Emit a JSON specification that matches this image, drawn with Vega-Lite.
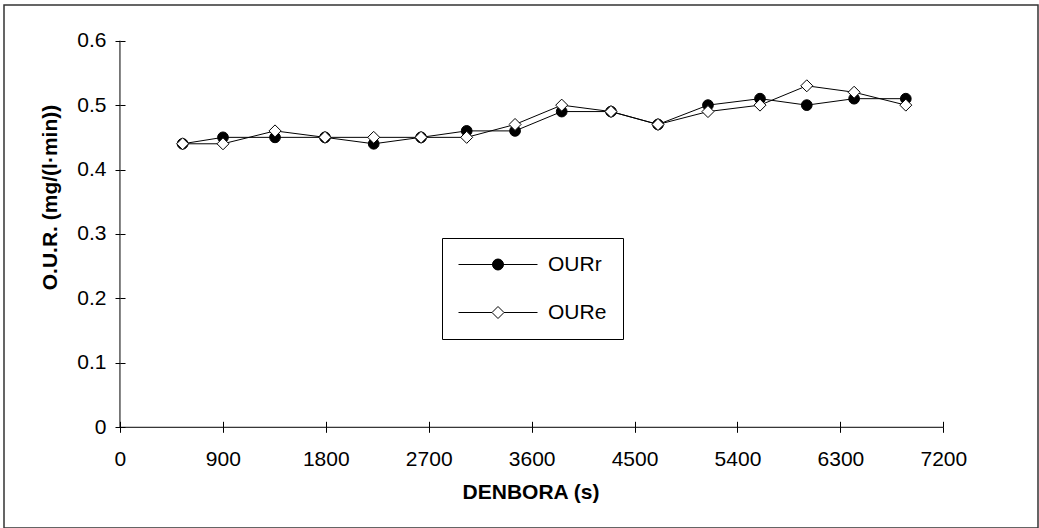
{
  "$schema": "https://vega.github.io/schema/vega-lite/v6.json",
  "width": 1034,
  "height": 523,
  "autosize": {"type": "none"},
  "padding": {"left": 4, "top": 5, "right": 1, "bottom": 0},
  "background": "white",
  "config": {
    "view": {"stroke": "#333333", "strokeWidth": 1.5},
    "font": "Liberation Sans",
    "axis": {"labelFont": "Liberation Sans", "titleFont": "Liberation Sans", "labelColor": "black", "titleColor": "black", "tickColor": "black", "grid": false, "domain": false}
  },
  "data": {
    "values": [
      {"t": 548, "series": "OURr", "our": 0.44},
      {"t": 901, "series": "OURr", "our": 0.45},
      {"t": 1356, "series": "OURr", "our": 0.45},
      {"t": 1793, "series": "OURr", "our": 0.45},
      {"t": 2219, "series": "OURr", "our": 0.44},
      {"t": 2633, "series": "OURr", "our": 0.45},
      {"t": 3032, "series": "OURr", "our": 0.46},
      {"t": 3455, "series": "OURr", "our": 0.46},
      {"t": 3863, "series": "OURr", "our": 0.49},
      {"t": 4294, "series": "OURr", "our": 0.49},
      {"t": 4705, "series": "OURr", "our": 0.47},
      {"t": 5142, "series": "OURr", "our": 0.50},
      {"t": 5597, "series": "OURr", "our": 0.51},
      {"t": 6006, "series": "OURr", "our": 0.50},
      {"t": 6420, "series": "OURr", "our": 0.51},
      {"t": 6872, "series": "OURr", "our": 0.51},
      {"t": 548, "series": "OURe", "our": 0.44},
      {"t": 901, "series": "OURe", "our": 0.44},
      {"t": 1356, "series": "OURe", "our": 0.46},
      {"t": 1793, "series": "OURe", "our": 0.45},
      {"t": 2219, "series": "OURe", "our": 0.45},
      {"t": 2633, "series": "OURe", "our": 0.45},
      {"t": 3032, "series": "OURe", "our": 0.45},
      {"t": 3455, "series": "OURe", "our": 0.47},
      {"t": 3863, "series": "OURe", "our": 0.50},
      {"t": 4294, "series": "OURe", "our": 0.49},
      {"t": 4705, "series": "OURe", "our": 0.47},
      {"t": 5142, "series": "OURe", "our": 0.49},
      {"t": 5597, "series": "OURe", "our": 0.50},
      {"t": 6006, "series": "OURe", "our": 0.53},
      {"t": 6420, "series": "OURe", "our": 0.52},
      {"t": 6872, "series": "OURe", "our": 0.50}
    ]
  },
  "layer": [
    {
      "mark": {"type": "line", "color": "black", "strokeWidth": 1},
      "encoding": {
        "x": {
          "field": "t", "type": "quantitative",
          "scale": {"domain": [-1014, 8028], "nice": false, "zero": false},
          "axis": {
            "orient": "bottom", "offset": -100.7,
            "values": [0, 900, 1800, 2700, 3600, 4500, 5400, 6300, 7200],
            "format": "d", "tickSize": 5, "tickWidth": 1,
            "labelFontSize": 21, "labelPadding": 16, "labelFlush": false, "labelOverlap": false,
            "title": "DENBORA (s)", "titleFontSize": 21, "titleFontWeight": "bold",
            "titleX": 526.5, "titleY": 54, "titleBaseline": "top", "titleAlign": "center"
          }
        },
        "y": {
          "field": "our", "type": "quantitative",
          "scale": {"domain": [-0.1563, 0.6554], "nice": false, "zero": false},
          "axis": {
            "orient": "left", "offset": -116,
            "values": [0, 0.1, 0.2, 0.3, 0.4, 0.5, 0.6],
            "format": ".1~f", "tickSize": 5, "tickWidth": 1,
            "labelFontSize": 21, "labelPadding": 9, "labelFlush": false, "labelOverlap": false,
            "title": "O.U.R. (mg/(l·min))", "titleFontSize": 21, "titleFontWeight": "bold",
            "titleAngle": -90, "titleX": -70, "titleY": 192, "titleBaseline": "middle", "titleAlign": "center"
          }
        },
        "detail": {"field": "series", "type": "nominal"}
      }
    },
    {
      "transform": [{"filter": "datum.series === 'OURr'"}],
      "mark": {"type": "point", "shape": "circle", "filled": true, "fill": "black", "stroke": "black", "strokeWidth": 1, "opacity": 1, "size": 115},
      "encoding": {
        "x": {
          "field": "t", "type": "quantitative",
          "axis": {"orient": "top", "offset": -422.3, "values": [0, 900, 1800, 2700, 3600, 4500, 5400, 6300, 7200], "tickSize": 6, "labels": false, "title": null}
        },
        "y": {
          "field": "our", "type": "quantitative",
          "axis": {"orient": "right", "offset": -918, "values": [0, 0.1, 0.2, 0.3, 0.4, 0.5, 0.6], "tickSize": 5, "labels": false, "title": null}
        }
      }
    },
    {
      "transform": [{"filter": "datum.series === 'OURe'"}],
      "mark": {"type": "point", "shape": "diamond", "filled": true, "fill": "white", "stroke": "black", "strokeWidth": 1, "opacity": 1, "size": 144},
      "encoding": {
        "x": {"field": "t", "type": "quantitative", "axis": null},
        "y": {"field": "our", "type": "quantitative", "axis": null}
      }
    },
    {
      "transform": [{"filter": "false"}],
      "mark": {"type": "point", "filled": true, "stroke": "black", "strokeWidth": 1, "opacity": 1},
      "encoding": {
        "x": {"field": "t", "type": "quantitative", "axis": null},
        "y": {"field": "our", "type": "quantitative", "axis": null},
        "fill": {
          "field": "series", "type": "nominal",
          "scale": {"domain": ["OURr", "OURe"], "range": ["black", "white"]},
          "legend": {
            "orient": "none", "legendX": 438, "legendY": 233, "title": null,
            "fillColor": "white", "strokeColor": "black", "padding": 16,
            "labelFontSize": 21, "labelColor": "black", "labelFont": "Liberation Sans",
            "labelOffset": 39.5, "symbolOffset": 29.5,
            "symbolSize": 400, "rowPadding": 26,
            "symbolStrokeColor": "black", "symbolStrokeWidth": 1, "symbolOpacity": 1
          }
        },
        "shape": {
          "field": "series", "type": "nominal",
          "scale": {
            "domain": ["OURr", "OURe"],
            "range": [
              "M-3.95,0H3.95M0.55,0A0.55,0.55,0,1,1,-0.55,0A0.55,0.55,0,1,1,0.55,0Z",
              "M-3.95,0H-0.6M0.6,0H3.95M0,-0.6L0.6,0L0,0.6L-0.6,0Z"
            ]
          }
        }
      }
    },
    {
      "data": {"values": [{}]},
      "mark": {"type": "rule", "color": "black", "strokeWidth": 1},
      "encoding": {
        "x": {"datum": 0, "type": "quantitative", "axis": null},
        "x2": {"datum": 7200},
        "y": {"datum": 0, "type": "quantitative", "axis": null}
      }
    },
    {
      "data": {"values": [{}]},
      "mark": {"type": "rule", "color": "black", "strokeWidth": 1},
      "encoding": {
        "x": {"datum": 0, "type": "quantitative", "axis": null},
        "y": {"datum": 0, "type": "quantitative", "axis": null},
        "y2": {"datum": 0.6}
      }
    }
  ],
  "resolve": {"axis": {"x": "independent", "y": "independent"}}
}
